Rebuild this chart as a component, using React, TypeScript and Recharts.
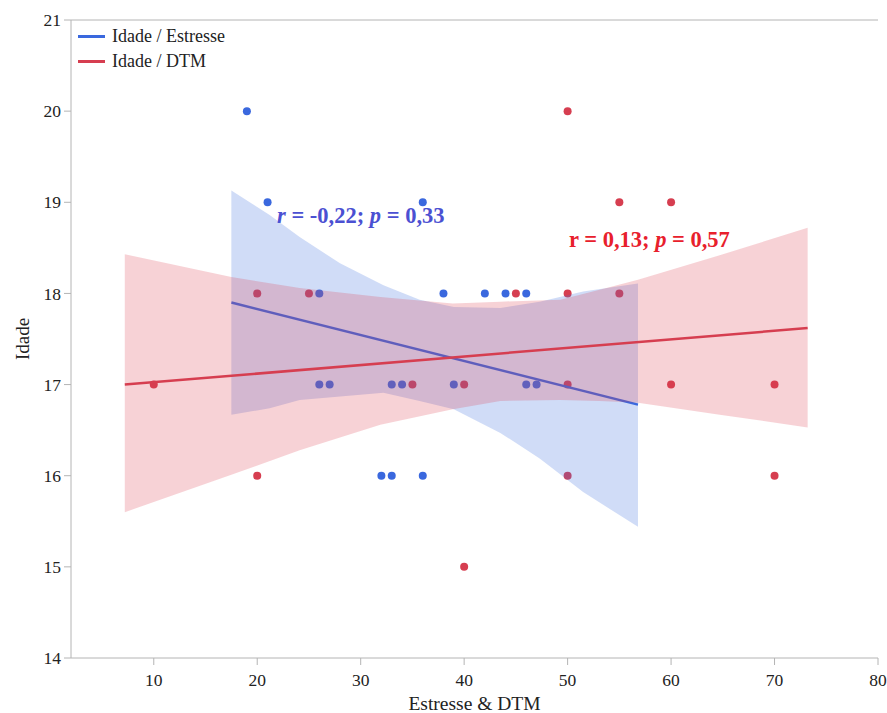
import {
  ComposedChart,
  Scatter,
  Line,
  Area,
  XAxis,
  YAxis,
  Legend,
  ReferenceLine,
  Customized,
} from 'recharts';

// Estresse (blue) points: score / idade
const estresseX = [19, 21, 36, 26, 38, 42, 44, 46, 26, 27, 33, 34, 39, 46, 47, 32, 33, 36];
const estresseIdade = [20, 19, 19, 18, 18, 18, 18, 18, 17, 17, 17, 17, 17, 17, 17, 16, 16, 16];

// DTM (red) points
const dtmX = [50, 55, 60, 20, 25, 45, 50, 55, 10, 35, 40, 50, 60, 70, 20, 50, 70, 40];
const dtmIdade = [20, 19, 19, 18, 18, 18, 18, 18, 17, 17, 17, 17, 17, 17, 16, 16, 16, 15];

// fitted lines (end points)
const estresseFitX = [17.5, 56.8];
const estresseFitY = [17.9, 16.78];
const dtmFitX = [7.2, 73.2];
const dtmFitY = [17.0, 17.62];

// shaded bands
const estresseBandX = [17.5, 21.2, 24.1, 28, 32.2, 35.7, 39, 43.5, 47.3, 51.5, 56.8];
const estresseBandLo = [16.67, 16.74, 16.83, 16.87, 16.91, 16.82, 16.73, 16.47, 16.19, 15.82, 15.44];
const estresseBandHi = [19.13, 18.86, 18.62, 18.33, 18.09, 17.93, 17.85, 17.84, 17.91, 18.02, 18.11];

const dtmBandX = [7.2, 17.5, 24.1, 31.9, 38.9, 43.5, 49.3, 53.1, 56.8, 64.7, 73.2];
const dtmBandLo = [15.6, 16.01, 16.28, 16.56, 16.73, 16.82, 16.83, 16.82, 16.8, 16.67, 16.53];
const dtmBandHi = [18.43, 18.18, 18.06, 17.96, 17.89, 17.91, 17.93, 18.04, 18.15, 18.42, 18.72];

const xTicks = [10, 20, 30, 40, 50, 60, 70, 80];
const yTicks = [14, 15, 16, 17, 18, 19, 20, 21];

const BLUE = '#3a68de';
const RED = '#d63e50';
const AXIS = '#b4b4b4';
const FONT = '"Liberation Serif", "Times New Roman", serif';

const toPoints = (xs: number[], ys: number[]) => xs.map((x, i) => ({ x, y: ys[i] }));
const toBand = (xs: number[], lo: number[], hi: number[]) =>
  xs.map((x, i) => ({ x, band: [lo[i], hi[i]] }));

const estressePts = toPoints(estresseX, estresseIdade);
const dtmPts = toPoints(dtmX, dtmIdade);
const estresseFit = toPoints(estresseFitX, estresseFitY);
const dtmFit = toPoints(dtmFitX, dtmFitY);
const estresseBand = toBand(estresseBandX, estresseBandLo, estresseBandHi);
const dtmBand = toBand(dtmBandX, dtmBandLo, dtmBandHi);

const legendItems = [
  { name: 'Idade / Estresse', color: BLUE },
  { name: 'Idade / DTM', color: RED },
];

const LegendBox = () => (
  <div style={{ fontFamily: FONT, fontSize: 18, color: '#222', lineHeight: '25px' }}>
    {legendItems.map((it) => (
      <div key={it.name} style={{ display: 'flex', alignItems: 'center' }}>
        <span style={{ display: 'inline-block', width: 27, height: 3, background: it.color, marginRight: 7 }} />
        {it.name}
      </div>
    ))}
  </div>
);

const Annotations = () => (
  <g fontFamily={FONT} fontWeight="bold" fontSize={22.5}>
    <text x={277} y={223} fill="#4b50d2">
      <tspan fontStyle="italic">r</tspan> = -0,22; <tspan fontStyle="italic">p</tspan> = 0,33
    </text>
    <text x={569} y={247} fill="#e8202c">
      r = 0,13; <tspan fontStyle="italic">p</tspan> = 0,57
    </text>
  </g>
);

const dot = (color: string) => (p: any) => <circle cx={p.cx} cy={p.cy} r={4} fill={color} />;

export default function App() {
  // zIndex keeps the bands over the points, as in the original plot
  const z: any = (n: number) => ({ zIndex: n });
  return (
    <div style={{ position: 'absolute', left: 0, top: 0, width: 887, height: 713, overflow: 'hidden', background: '#fff' }}>
      <ComposedChart width={900} height={713} margin={{ top: 20, right: 22, bottom: 0, left: 0 }}>
        <XAxis
          type="number"
          dataKey="x"
          domain={[2, 80]}
          ticks={xTicks}
          height={55}
          stroke={AXIS}
          tickSize={7}
          tickMargin={9}
          tick={{ fill: '#222', fontSize: 17.5, fontFamily: FONT }}
          label={{ value: 'Estresse & DTM', position: 'insideBottom', offset: 3, fill: '#222', fontSize: 19.5, fontFamily: FONT }}
        />
        <YAxis
          type="number"
          domain={[14, 21]}
          ticks={yTicks}
          width={71}
          stroke={AXIS}
          tickSize={7}
          tickMargin={3}
          tick={{ fill: '#222', fontSize: 17.5, fontFamily: FONT }}
          label={{ value: 'Idade', angle: -90, position: 'insideLeft', offset: 22, fill: '#222', fontSize: 19, fontFamily: FONT, style: { textAnchor: 'middle' } }}
        />
        <ReferenceLine y={21} stroke={AXIS} />
        <Scatter {...z(91)} data={dtmPts} dataKey="y" fill={RED} shape={dot(RED)} isAnimationActive={false} />
        <Scatter {...z(92)} data={estressePts} dataKey="y" fill={BLUE} shape={dot(BLUE)} isAnimationActive={false} />
        <Area {...z(100)} data={estresseBand} dataKey="band" type="linear" stroke="none" fill="#4472e0" fillOpacity={0.25} isAnimationActive={false} />
        <Line {...z(110)} data={estresseFit} dataKey="y" type="linear" stroke={BLUE} strokeWidth={2.5} dot={false} isAnimationActive={false} />
        <Area {...z(120)} data={dtmBand} dataKey="band" type="linear" stroke="none" fill="#dc3c4c" fillOpacity={0.23} isAnimationActive={false} />
        <Line {...z(130)} data={dtmFit} dataKey="y" type="linear" stroke={RED} strokeWidth={2.5} dot={false} isAnimationActive={false} />
        <Legend
          layout="horizontal"
          verticalAlign="middle"
          align="center"
          content={LegendBox}
          wrapperStyle={{ top: 24, left: 78, width: 'auto' }}
        />
        <Customized component={Annotations} />
      </ComposedChart>
    </div>
  );
}
